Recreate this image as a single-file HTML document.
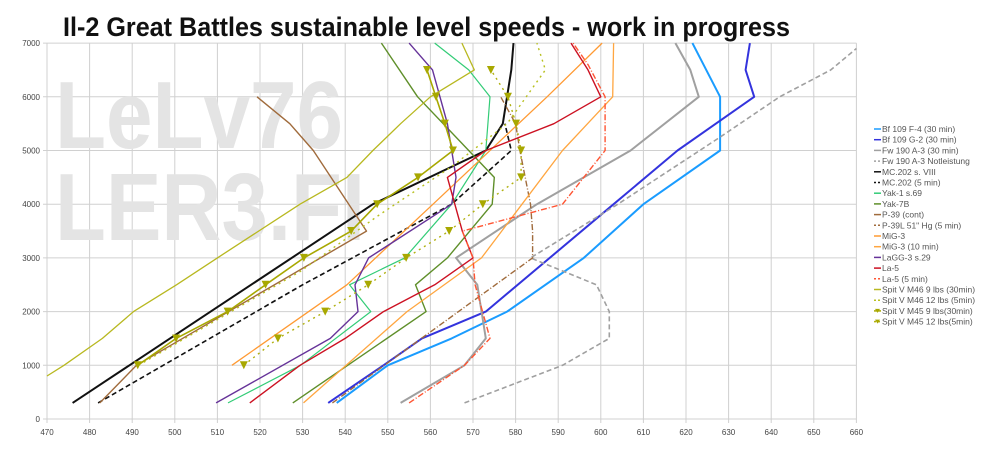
<!DOCTYPE html>
<html><head><meta charset="utf-8"><style>
html,body{margin:0;padding:0;background:#fff;}
svg{display:block;font-family:"Liberation Sans",sans-serif;}
</style></head><body>
<svg id="chart" width="1000" height="451" viewBox="0 0 1000 451">
<text x="63" y="36" font-size="27" font-weight="bold" fill="#111" textLength="727" lengthAdjust="spacingAndGlyphs">Il-2 Great Battles sustainable level speeds - work in progress</text>
<g id="grid"></g>
<g>
<text x="55" y="148" font-size="96" font-weight="bold" fill="#e4e4e4" textLength="288" lengthAdjust="spacingAndGlyphs">LeLv76</text>
<text x="55" y="240" font-size="96" font-weight="bold" fill="#e4e4e4" textLength="310" lengthAdjust="spacingAndGlyphs">LER3.FI</text>
</g>
<g id="series"></g>
<g id="axes"></g>
<g id="legend"></g>
</svg>
<script>
const xTicks=[470,480,490,500,510,520,530,540,550,560,570,580,590,600,610,620,630,640,650,660];
const yTicks=[0,1000,2000,3000,4000,5000,6000,7000];
const seriesNames=["Bf 109 F-4 (30 min)","Bf 109 G-2 (30 min)","Fw 190 A-3 (30 min)","Fw 190 A-3 Notleistung","MC.202 s. VIII","MC.202 (5 min)","Yak-1 s.69","Yak-7B","P-39 (cont)","P-39L 51\" Hg (5 min)","MiG-3","MiG-3 (10 min)","LaGG-3 s.29","La-5","La-5 (5 min)","Spit V M46 9 lbs (30min)","Spit V M46 12 lbs (5min)","Spit V M45 9 lbs(30min)","Spit V M45 12 lbs(5min)"];
const bf109f4=[[538,300],[550,1000],[565,1500],[578,2000],[596,3000],[610,4000],[628,5000],[628,6000],[621.5,7000]];
const bf109g2=[[536,300],[549,1000],[558,1500],[573,2000],[603,4000],[618,5000],[636,6000],[634,6500],[635,7000]];
const fw190=[[553,300],[568,1000],[573,1500],[571,2500],[566,3000],[585,4000],[607,5000],[623,6000],[621,6500],[617.5,7000]];
const fw190n=[[568,300],[591,1000],[602,1500],[602,2000],[599,2500],[583.5,3000],[604,4000],[628,5250],[642,6000],[654,6500],[660,6900]];
const mc202=[[476,300],[546.5,4000],[573,5000],[577,5500],[579,6500],[579.5,7000]];
const mc202b=[[482,300],[530,2500],[565,4000],[579,5000],[577.5,5500]];
const yak1=[[512.5,300],[529.5,1000],[546,2000],[541,2500],[554,3000],[565,4000],[573,5000],[574,6000],[569,6500],[561,7000]];
const yak7=[[527.7,300],[559,2000],[556.5,2500],[564,3000],[574.5,4000],[575,4500],[557,6000],[548.5,7000]];
const p39=[[482.4,300],[491,1000],[545,3500],[532.5,5000],[527,5500],[519.3,6000]];
const p39l=[[537,300],[584,3000],[584,3500],[583.5,4000],[581,5000],[580,5500],[576.5,6000]];
const mig3=[[513.4,1000],[540.4,2500],[560.6,4000],[587.4,6000],[600.3,7000]];
const mig3b=[[530.2,300],[554.5,2000],[572,3000],[581.5,4000],[591,5000],[602.8,6000],[603,7000]];
const lagg3=[[509.7,300],[536.5,1500],[543,2000],[542.3,2500],[545.5,3000],[565,4000],[566,4500],[564,5500],[560.5,6500],[555,7000]];
const la5=[[517.6,300],[529.4,1000],[540,1500],[549,2000],[561,2500],[570,3000],[567.5,3500],[564,4500],[573,5000],[589,5500],[600,6000],[597,6500],[593,7000]];
const la5b=[[555,300],[568,1000],[574,1500],[570.5,2500],[570,3000],[567.5,3500],[591,4000],[601,5000],[601,6000],[597,6600],[593.5,7000]];
const spit46=[[470,800],[474,1000],[483,1500],[490.3,2000],[500.4,2500],[510,3000],[529.4,4000],[540.4,4500],[546.5,5000],[553,5500],[560,6000],[570.3,6500],[567.4,7000]];
const spit46b=[[491.5,1000],[529.5,2750],[548,3800],[565,4700],[578,5500],[587,6500],[585,7000]];
const spit45=[[491.3,1000],[500.3,1500],[512.4,2000],[521.3,2500],[530.3,3000],[541.4,3500],[547.5,4000],[557.1,4500],[565.3,5000],[563.4,5500],[561.3,6000],[559.2,6500]];
const spit45b=[[516.2,1000],[524.2,1500],[535.3,2000],[545.4,2500],[554.3,3000],[564.4,3500],[572.3,4000],[581.3,4500],[581.3,5000],[580.1,5500],[578.2,6000],[574.2,6500]];

const seriesData=[bf109f4,bf109g2,fw190,fw190n,mc202,mc202b,yak1,yak7,p39,p39l,mig3,mig3b,lagg3,la5,la5b,spit46,spit46b,spit45,spit45b];
const styles=[
 {c:"#1a9cff",w:2,d:""},{c:"#3333dd",w:2,d:""},{c:"#a0a0a0",w:2,d:""},{c:"#a0a0a0",w:1.6,d:"5,3"},
 {c:"#111",w:2,d:""},{c:"#111",w:1.6,d:"5,3"},{c:"#33cc77",w:1.2,d:""},{c:"#5f8f2a",w:1.4,d:""},
 {c:"#a06b3c",w:1.4,d:""},{c:"#a06b3c",w:1.4,d:"6,2,1,2"},{c:"#ff9a33",w:1.3,d:""},{c:"#ffa640",w:1.3,d:""},
 {c:"#663399",w:1.4,d:""},{c:"#cc1122",w:1.4,d:""},{c:"#ff5533",w:1.4,d:"6,2,1,2"},
 {c:"#b8b820",w:1.3,d:""},{c:"#b8c020",w:1.4,d:"2,4"},{c:"#a8a800",w:1.6,d:"",m:1},{c:"#b0b010",w:1.4,d:"2,4",m:1}];

const X=v=>47+(v-470)*4.26;
const Y=a=>419-a*0.0537;
const NS="http://www.w3.org/2000/svg";
function mk(t,attrs,parent){const e=document.createElementNS(NS,t);for(const k in attrs)e.setAttribute(k,attrs[k]);parent.appendChild(e);return e;}
const grid=document.getElementById('grid'),axes=document.getElementById('axes'),ser=document.getElementById('series'),leg=document.getElementById('legend');
xTicks.forEach(t=>{
 const l=mk('line',{x1:X(t),x2:X(t),y1:Y(7000),y2:Y(0)+4,stroke:"#d0d0d0","stroke-width":1},grid);
 
 
 const tx=mk('text',{x:X(t),y:435,"font-size":8,fill:"#444","text-anchor":"middle"},axes);
 tx.textContent=t;
 
 
});
yTicks.forEach(t=>{
 const l=mk('line',{x1:X(470)-4,x2:X(660),y1:Y(t),y2:Y(t),stroke:"#d0d0d0","stroke-width":1},grid);
 
 
 const tx=mk('text',{x:40,y:Y(t)+3,"font-size":8,fill:"#444","text-anchor":"end"},axes);
 tx.textContent=t;
 
 
});
seriesData.forEach((pts,i)=>{
 const s=styles[i];
 const p=mk('polyline',{points:pts.map(q=>X(q[0]).toFixed(1)+","+Y(q[1]).toFixed(1)).join(" "),fill:"none",stroke:s.c,"stroke-width":s.w,"stroke-dasharray":s.d,"stroke-linejoin":"round"},ser);
 
 
 if(s.m){pts.forEach(q=>{const x=X(q[0]),y=Y(q[1]);
  const m=mk('polygon',{points:`${x-4},${y-4} ${x+4},${y-4} ${x},${y+4}`,fill:"#a8a800"},ser);
  
  });}
 const ly=129+i*10.7;
 const ll=mk('line',{x1:874,x2:881,y1:ly,y2:ly,stroke:s.c,"stroke-width":1.5,"stroke-dasharray":s.d?"2,2":""},leg);
 
 
 if(s.m){const m=mk('polygon',{points:`${875},${ly-2} ${880},${ly-2} ${877.5},${ly+2}`,fill:"#a8a800"},leg);
  
  }
 const lt=mk('text',{x:882,y:ly+3,"font-size":8.5,fill:"#555"},leg);
 lt.textContent=seriesNames[i];
 
 
});
</script>
</body></html>
